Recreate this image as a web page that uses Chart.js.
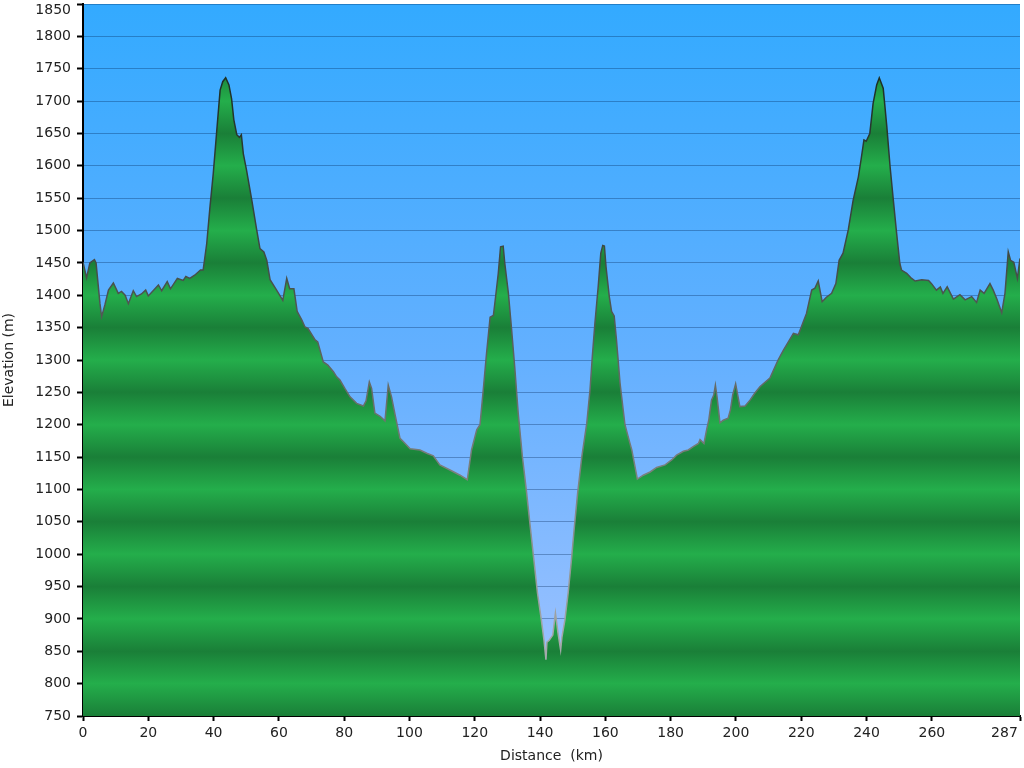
<!DOCTYPE html>
<html>
<head>
<meta charset="utf-8">
<style>
  html, body { margin: 0; padding: 0; background: #fff; }
  canvas { display: block; }
</style>
<script src="https://cdn.jsdelivr.net/npm/chart.js@4.4.1/dist/chart.umd.min.js"></script>
</head>
<body>
<canvas id="profile" width="1024" height="768"></canvas>
<script>
// distance along the route (km) and elevation (m)
var distKm = [
  0, 1.1, 2.1, 3.5, 4.0, 5.2, 5.7, 6.7, 7.8, 9.3, 10.8, 11.8, 12.9, 13.9, 15.4, 16.4, 17.9, 19.2, 20.0,
  23.1, 24.1, 25.8, 26.8, 28.9, 30.7, 31.5, 32.7, 34.2, 36.0, 36.8, 37.9, 38.9, 39.9, 40.9, 42.0, 42.8,
  43.7, 44.7, 45.5, 46.2, 47.1, 47.9, 48.5, 49.1, 50.1, 51.7, 53.2, 54.2, 55.4, 56.3, 57.3, 59.3, 61.2,
  62.4, 63.3, 64.6, 65.6, 67.0, 68.0, 68.9, 71.1, 71.9, 73.6, 75.0, 76.7, 77.7, 78.7, 80.2, 81.8, 83.8,
  85.9, 86.7, 87.7, 88.4, 89.4, 91.0, 92.5, 93.5, 94.5, 95.6, 97.1, 98.3, 100.2, 103.2, 105.3, 107.3,
  109.3, 112.4, 115.5, 117.7, 119.0, 120.6, 121.6, 122.6, 123.6, 124.7, 125.7, 126.2, 127.2, 127.9,
  128.7, 129.2, 130.3, 131.3, 132.3, 133.3, 134.6, 135.9, 137.0, 138.1, 139.2, 140.4, 141.2, 141.8,
  142.1, 142.8, 143.9, 144.7, 145.5, 146.3, 146.7, 147.6, 148.6, 149.6, 150.5, 151.5, 152.8, 154.3,
  155.3, 156.0, 156.8, 157.8, 158.6, 159.2, 159.7, 160.2, 161.2, 161.9, 162.7, 163.4, 164.5, 166.0,
  167.5, 168.1, 169.8, 171.6, 173.7, 175.7, 178.3, 180.4, 181.8, 183.9, 185.4, 186.9, 188.5, 189.0,
  190.2, 191.0, 191.7, 192.5, 193.2, 193.7, 194.2, 195.1, 196.1, 197.6, 198.3, 199.0, 199.9, 201.2,
  202.8, 204.3, 205.8, 207.4, 210.4, 212.9, 214.5, 217.6, 219.1, 221.6, 223.2, 224.2, 225.2, 226.4,
  227.7, 229.3, 230.6, 231.6, 232.8, 234.4, 235.9, 237.5, 238.3, 239.2, 239.9, 241.0, 242.0, 243.1,
  243.9, 245.1, 246.2, 247.2, 248.2, 249.2, 250.2, 250.7, 252.3, 253.8, 254.9, 256.9, 259.0, 259.9,
  261.4, 262.6, 263.4, 264.7, 266.6, 268.6, 270.2, 272.2, 273.7, 274.8, 276.0, 277.8, 278.8, 280.0,
  281.4, 282.4, 283.4, 284.1, 285.1, 286.2, 287.0
];
var elevM = [
  1451, 1427, 1450, 1455, 1450, 1387, 1367, 1385, 1408, 1419, 1403, 1406, 1400, 1387, 1407, 1398, 1402, 1408, 1399,
  1416, 1407, 1421, 1410, 1426, 1423, 1429, 1426, 1431, 1439, 1439, 1480, 1537, 1588, 1650, 1717, 1730,
  1736, 1725, 1704, 1671, 1648, 1644, 1648, 1619, 1593, 1547, 1501, 1472, 1467, 1454, 1424, 1408, 1392,
  1426, 1410, 1410, 1375, 1362, 1351, 1349, 1331, 1328, 1297, 1292, 1282, 1274, 1269, 1256, 1243, 1233,
  1229, 1237, 1266, 1256, 1218, 1213, 1206, 1261, 1243, 1215, 1179, 1173, 1163, 1161, 1156, 1152,
  1138, 1130, 1122, 1115, 1161, 1192, 1200, 1254, 1310, 1366, 1369, 1390, 1434, 1475,
  1476, 1449, 1403, 1346, 1285, 1218, 1150, 1094, 1042, 991, 940, 898, 867, 837,
  864, 867, 875, 909, 878, 852, 872, 898, 940, 991, 1042, 1094, 1151, 1202,
  1254, 1305, 1357, 1413, 1465, 1477, 1476, 1444, 1398, 1375, 1368, 1331, 1264, 1200,
  1172, 1161, 1116, 1122, 1127, 1134, 1138, 1146, 1153, 1159, 1161, 1166, 1171, 1177,
  1171, 1192, 1208, 1238, 1246, 1261, 1243, 1203, 1207, 1210, 1223, 1246, 1263, 1228,
  1229, 1238, 1249, 1259, 1272, 1300, 1315, 1341, 1339, 1372, 1408, 1411, 1422, 1390,
  1397, 1403, 1418, 1454, 1465, 1501, 1547, 1583, 1609, 1640, 1638, 1650, 1696, 1725,
  1736, 1720, 1661, 1599, 1547, 1496, 1449, 1439, 1434, 1426, 1422, 1424, 1423, 1418,
  1408, 1413, 1403, 1413, 1394, 1401, 1393, 1398, 1389, 1408, 1403, 1418, 1408, 1393,
  1373, 1403, 1467, 1454, 1451, 1426, 1457
];
var xTicks = [0, 20, 40, 60, 80, 100, 120, 140, 160, 180, 200, 220, 240, 260, 287];
var yMin = 750, yMax = 1850, yStep = 50;

var font = { family: 'DejaVu Sans', size: 14 };

// green bands: light at every hundred, dark at every odd fifty
function groundFill(c) {
  var chart = c.chart, area = chart.chartArea;
  if (!area) return '#1f9a42';
  var y = chart.scales.y;
  var g = chart.ctx.createLinearGradient(0, y.getPixelForValue(yMin), 0, y.getPixelForValue(yMax));
  for (var v = yMin; v <= yMax; v += yStep) {
    g.addColorStop((v - yMin) / (yMax - yMin), v % 100 === 0 ? '#24ae4b' : '#1a7f38');
  }
  return g;
}

function outline(c) {
  var chart = c.chart, area = chart.chartArea;
  if (!area) return '#555';
  var g = chart.ctx.createLinearGradient(0, area.top, 0, area.bottom);
  g.addColorStop(0, '#0e2418');
  g.addColorStop(0.35, '#404a44');
  g.addColorStop(0.65, '#7a7f7c');
  g.addColorStop(1, '#b4b8bc');
  return g;
}

var skyPlugin = {
  id: 'sky',
  beforeDraw: function (chart) {
    var a = chart.chartArea, ctx = chart.ctx;
    var g = ctx.createLinearGradient(0, a.top, 0, a.bottom);
    g.addColorStop(0, '#33aaff');
    g.addColorStop(0.5, '#64b0ff');
    g.addColorStop(1, '#a4c4ff');
    ctx.save();
    ctx.fillStyle = g;
    ctx.fillRect(a.left, a.top, a.right - a.left, a.bottom - a.top);
    ctx.restore();
  }
};

new Chart(document.getElementById('profile'), {
  type: 'line',
  data: {
    datasets: [{
      data: distKm.map(function (d, i) { return { x: d, y: elevM[i] }; }),
      fill: 'start',
      backgroundColor: groundFill,
      borderColor: outline,
      borderWidth: 1.5,
      pointRadius: 0,
      tension: 0
    }]
  },
  options: {
    responsive: false,
    animation: false,
    devicePixelRatio: 1,
    layout: { padding: { top: 4, right: 4, left: 0, bottom: 0 } },
    plugins: { legend: { display: false }, tooltip: { enabled: false } },
    scales: {
      x: {
        type: 'linear',
        min: 0,
        max: 287,
        afterBuildTicks: function (s) { s.ticks = xTicks.map(function (v) { return { value: v }; }); },
        afterFit: function (s) { s.height = 52; s.paddingLeft = 0; s.paddingRight = 0; },
        ticks: {
          autoSkip: false,
          maxRotation: 0,
          padding: 4,
          color: '#222',
          font: font,
          // last label sits left of its tick, as in the original
          callback: function (v) { return v === 287 ? '287       ' : String(v); }
        },
        grid: { drawOnChartArea: false, tickLength: 5, tickColor: '#000', tickWidth: 2 },
        border: { color: '#000', width: 2 },
        title: { display: true, text: 'Distance  (km)', color: '#222', font: font, padding: { top: 0, bottom: 3 } }
      },
      y: {
        min: yMin,
        max: yMax,
        z: 1,
        afterFit: function (s) { s.width = 83; s.paddingTop = 0; s.paddingBottom = 0; },
        ticks: {
          stepSize: yStep,
          padding: 6,
          color: '#222',
          font: { family: 'DejaVu Sans', size: 14, lineHeight: 0.85 },
          // top label is pushed down so it stays on the canvas
          callback: function (v) { return v === yMax ? ['', String(v)] : String(v); }
        },
        grid: { color: 'rgba(0,35,80,0.32)', lineWidth: 1, tickLength: 6, tickColor: '#000', tickWidth: 2 },
        border: { color: '#000', width: 2 },
        title: { display: true, text: 'Elevation (m)', color: '#222', font: font, padding: { top: 1, bottom: 0 } }
      }
    }
  },
  plugins: [skyPlugin]
});
</script>
</body>
</html>
